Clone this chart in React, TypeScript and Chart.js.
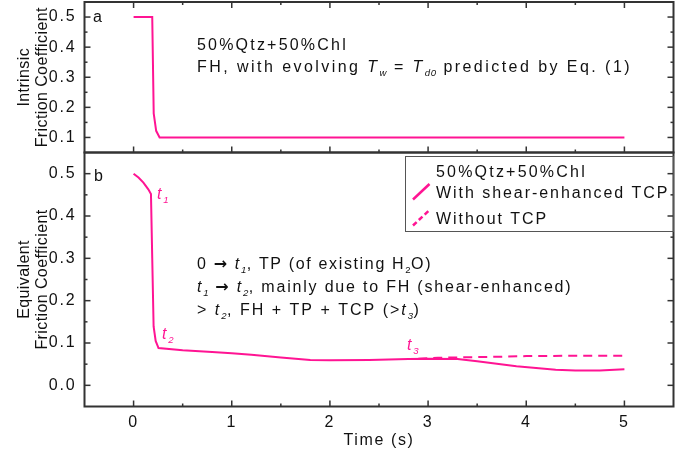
import React, { useEffect, useRef } from 'react';
import { Chart, registerables } from 'chart.js';

Chart.register(...registerables);

// ---- data ----
const topX = [0, 0.19, 0.205, 0.23, 0.265, 5];
const topY = [0.5, 0.5, 0.18, 0.122, 0.1, 0.1];

const withX = [0, 0.05, 0.1, 0.15, 0.177, 0.19, 0.204, 0.225, 0.254, 0.5, 0.8, 1.0, 1.2, 1.5, 1.8, 2.0, 2.4, 2.8, 3.0, 3.3, 3.5, 3.7, 3.9, 4.1, 4.3, 4.5, 4.75, 5.0];
const withY = [0.5, 0.491, 0.479, 0.463, 0.452, 0.3, 0.139, 0.105, 0.088, 0.083, 0.079, 0.076, 0.072, 0.066, 0.06, 0.059, 0.06, 0.062, 0.063, 0.062, 0.057, 0.051, 0.045, 0.041, 0.037, 0.035, 0.035, 0.038];

const withoutX = [2.9, 3.1, 3.3, 3.6, 4.0, 4.5, 5.0];
const withoutY = [0.063, 0.065, 0.066, 0.067, 0.069, 0.07, 0.07];

const xTicks = [0, 1, 2, 3, 4, 5];
const xMinor = [0.5, 1.5, 2.5, 3.5, 4.5];
const topYTicks = [0.1, 0.2, 0.3, 0.4, 0.5];
const topYMinor = [0.15, 0.25, 0.35, 0.45];
const botYTicks = [0.0, 0.1, 0.2, 0.3, 0.4, 0.5];
const botYMinor = [0.05, 0.15, 0.25, 0.35, 0.45];

const FONT = "'Liberation Sans', Arial, 'DejaVu Sans', sans-serif";
const ARROW_FONT = "'DejaVu Sans', sans-serif";
const PINK = '#FF1493';
const AXIS = '#333333';
const TEXT = '#111111';
const FS = 16;
const LS = 1.8;

type Seg = { t: string; it?: boolean; sub?: boolean; color?: string; arrow?: boolean };

function drawRich(ctx: CanvasRenderingContext2D, segs: Seg[], x: number, y: number, color = TEXT, ls = LS, size = FS) {
  let cx = x;
  ctx.textAlign = 'left';
  ctx.textBaseline = 'alphabetic';
  for (const s of segs) {
    const fs = s.sub ? size * 0.6 : size;
    ctx.font = `${s.it ? 'italic ' : ''}${s.arrow ? 'bold ' : ''}${fs}px ${s.arrow ? ARROW_FONT : FONT}`;
    (ctx as any).letterSpacing = `${s.sub ? 0.5 : s.arrow ? 0 : ls}px`;
    ctx.fillStyle = s.color || color;
    ctx.fillText(s.t, cx, s.sub ? y + size * 0.22 : y);
    cx += ctx.measureText(s.t).width + (s.arrow ? ls : 0);
  }
}

const decor = {
  id: 'decor',
  beforeDraw(chart: any) {
    chart.ctx.letterSpacing = LS + 'px';
  },
  beforeDatasetsDraw(chart: any) {
    const ctx: CanvasRenderingContext2D = chart.ctx;
    const x = chart.scales.x, yt = chart.scales.yTop, yb = chart.scales.yBot;
    const L = x.left, R = x.right;
    ctx.save();
    (ctx as any).letterSpacing = '0px';
    ctx.strokeStyle = AXIS;
    ctx.lineWidth = 2;
    ctx.strokeRect(L, yt.top, R - L, yt.bottom - yt.top);
    ctx.strokeRect(L, yb.top, R - L, yb.bottom - yb.top);
    ctx.lineWidth = 1.5;
    const seg = (x1: number, y1: number, x2: number, y2: number) => {
      ctx.beginPath(); ctx.moveTo(x1, y1); ctx.lineTo(x2, y2); ctx.stroke();
    };
    const xt = (v: number, len: number) => {
      const p = x.getPixelForValue(v);
      seg(p, yt.top, p, yt.top + len);
      seg(p, yt.bottom, p, yt.bottom - len);
      seg(p, yb.bottom, p, yb.bottom - len);
    };
    xTicks.forEach(v => xt(v, 6));
    xMinor.forEach(v => xt(v, 3));
    const ytk = (s: any, v: number, len: number) => {
      const p = s.getPixelForValue(v);
      seg(L, p, L + len, p);
      seg(R, p, R - len, p);
    };
    topYTicks.forEach(v => ytk(yt, v, 6));
    topYMinor.forEach(v => ytk(yt, v, 3));
    botYTicks.forEach(v => ytk(yb, v, 6));
    botYMinor.forEach(v => ytk(yb, v, 3));
    ctx.restore();
  },
  afterDatasetsDraw(chart: any) {
    const ctx: CanvasRenderingContext2D = chart.ctx;
    const x = chart.scales.x, yt = chart.scales.yTop, yb = chart.scales.yBot;
    const L = x.left, R = x.right;
    ctx.save();

    // panel letters
    drawRich(ctx, [{ t: 'a' }], 93, 22);
    drawRich(ctx, [{ t: 'b' }], 94, 181);

    // top annotation
    drawRich(ctx, [{ t: '50%Qtz+50%Chl' }], 197, 50, TEXT, 2.2);
    drawRich(ctx, [
      { t: 'FH, with evolving ' }, { t: 'T', it: true }, { t: 'w', it: true, sub: true },
      { t: ' = ' }, { t: 'T', it: true }, { t: 'd0', it: true, sub: true },
      { t: ' predicted by Eq. (1)' },
    ], 197, 72, TEXT, 2.45);

    // bottom annotation
    drawRich(ctx, [
      { t: '0 ' }, { t: '\u2192', arrow: true, }, { t: ' ' }, { t: 't', it: true }, { t: '1', it: true, sub: true },
      { t: ', TP (of existing H' }, { t: '2', sub: true }, { t: 'O)' },
    ], 197, 269, TEXT, 1.65);
    drawRich(ctx, [
      { t: 't', it: true }, { t: '1', it: true, sub: true }, { t: ' ' }, { t: '\u2192', arrow: true }, { t: ' ' },
      { t: 't', it: true }, { t: '2', it: true, sub: true },
      { t: ', mainly due to FH (shear-enhanced)' },
    ], 197, 292);
    drawRich(ctx, [
      { t: '> ' }, { t: 't', it: true }, { t: '2', it: true, sub: true },
      { t: ', FH + TP + TCP (>' }, { t: 't', it: true }, { t: '3', it: true, sub: true }, { t: ')' },
    ], 197, 315, TEXT, 2.0);

    // t labels near curve
    drawRich(ctx, [{ t: 't', it: true }, { t: '1', it: true, sub: true }], 157, 199, PINK);
    drawRich(ctx, [{ t: 't', it: true }, { t: '2', it: true, sub: true }], 162, 339, PINK);
    drawRich(ctx, [{ t: 't', it: true }, { t: '3', it: true, sub: true }], 407, 350, PINK);

    // legend box
    const bx = 405.5, by = 156.5, bh = 75;
    ctx.lineWidth = 1;
    ctx.strokeStyle = '#555555';
    ctx.strokeRect(bx, by, R - bx, bh);
    drawRich(ctx, [{ t: '50%Qtz+50%Chl' }], 436, 176.5, TEXT, 2.2);
    drawRich(ctx, [{ t: 'With shear-enhanced TCP' }], 436, 197.5, TEXT, 1.95);
    drawRich(ctx, [{ t: 'Without TCP' }], 436, 224, TEXT, 1.95);
    ctx.strokeStyle = PINK;
    ctx.lineWidth = 2.5;
    ctx.beginPath(); ctx.moveTo(413, 199.5); ctx.lineTo(429.5, 184); ctx.stroke();
    ctx.setLineDash([5, 3]);
    ctx.beginPath(); ctx.moveTo(413, 225.5); ctx.lineTo(429.5, 210); ctx.stroke();
    ctx.setLineDash([]);

    // axis titles
    ctx.fillStyle = TEXT;
    ctx.font = `16px ${FONT}`;
    (ctx as any).letterSpacing = '0.4px';
    ctx.textAlign = 'center';
    ctx.textBaseline = 'alphabetic';
    const vt = (lines: string[], cy: number) => {
      ctx.save();
      ctx.translate(0, cy);
      ctx.rotate(-Math.PI / 2);
      ctx.fillText(lines[0], 0, 28.5);
      ctx.fillText(lines[1], 0, 46.5);
      ctx.restore();
    };
    vt(['Intrinsic', 'Friction Coefficient'], (yt.top + yt.bottom) / 2);
    vt(['Equivalent', 'Friction Coefficient'], (yb.top + yb.bottom) / 2);
    ctx.font = `16px ${FONT}`;
    (ctx as any).letterSpacing = '1.6px';
    ctx.fillText('Time (s)', (L + R) / 2, 445);
    ctx.restore();
  },
};

const zeroPadY = (s: any) => { s.width = 84.5; s.paddingTop = 0; s.paddingBottom = 0; };

export default function App() {
  const ref = useRef<HTMLCanvasElement>(null);
  useEffect(() => {
    document.body.style.margin = '0';
    const canvas = ref.current!;
    const tickFont = { family: FONT, size: FS };
    const chart = new Chart(canvas, {
      type: 'line',
      data: {
        datasets: [
          {
            label: 'Intrinsic',
            data: topX.map((v, i) => ({ x: v, y: topY[i] })),
            xAxisID: 'x', yAxisID: 'yTop',
            borderColor: PINK, borderWidth: 2, pointRadius: 0, tension: 0, fill: false,
          },
          {
            label: 'With shear-enhanced TCP',
            data: withX.map((v, i) => ({ x: v, y: withY[i] })),
            xAxisID: 'x', yAxisID: 'yBot',
            borderColor: PINK, borderWidth: 2, pointRadius: 0, tension: 0, fill: false,
          },
          {
            label: 'Without TCP',
            data: withoutX.map((v, i) => ({ x: v, y: withoutY[i] })),
            xAxisID: 'x', yAxisID: 'yBot',
            borderColor: PINK, borderWidth: 2, borderDash: [9, 6], pointRadius: 0, tension: 0, fill: false,
          },
        ],
      },
      options: {
        responsive: false,
        animation: false,
        events: [],
        layout: { padding: { top: 2, right: 20.5, bottom: 0, left: 0 } },
        plugins: { legend: { display: false }, tooltip: { enabled: false } },
        scales: {
          x: {
            type: 'linear', position: 'bottom', min: -0.5, max: 5.5,
            grid: { display: false, drawTicks: false }, border: { display: false },
            afterBuildTicks: (s: any) => { s.ticks = xTicks.map(v => ({ value: v })); },
            ticks: { font: tickFont, color: TEXT, padding: 6, maxRotation: 0, autoSkip: false, callback: (v: any) => String(v) },
            afterFit: (s: any) => { s.height = 46.5; s.paddingLeft = 0; s.paddingRight = 0; },
          },
          yBot: {
            type: 'linear', position: 'left', stack: 'v', stackWeight: 254, min: -0.05, max: 0.55,
            grid: { display: false, drawTicks: false }, border: { display: false },
            afterBuildTicks: (s: any) => { s.ticks = botYTicks.map(v => ({ value: v })); },
            ticks: { font: tickFont, color: TEXT, padding: 8, autoSkip: false, callback: (v: any) => Number(v).toFixed(1) },
            afterFit: zeroPadY,
          },
          yTop: {
            type: 'linear', position: 'left', stack: 'v', stackWeight: 150.5, min: 0.05, max: 0.55,
            grid: { display: false, drawTicks: false }, border: { display: false },
            afterBuildTicks: (s: any) => { s.ticks = topYTicks.map(v => ({ value: v })); },
            ticks: { font: tickFont, color: TEXT, padding: 8, autoSkip: false, callback: (v: any) => Number(v).toFixed(1) },
            afterFit: zeroPadY,
          },
        },
      } as any,
      plugins: [decor],
    });
    return () => chart.destroy();
  }, []);
  return (
    <div style={{ position: 'absolute', left: 0, top: 0, width: 694, height: 453, background: '#fff' }}>
      <canvas ref={ref} width={694} height={453} style={{ width: 694, height: 453, display: 'block' }} />
    </div>
  );
}
